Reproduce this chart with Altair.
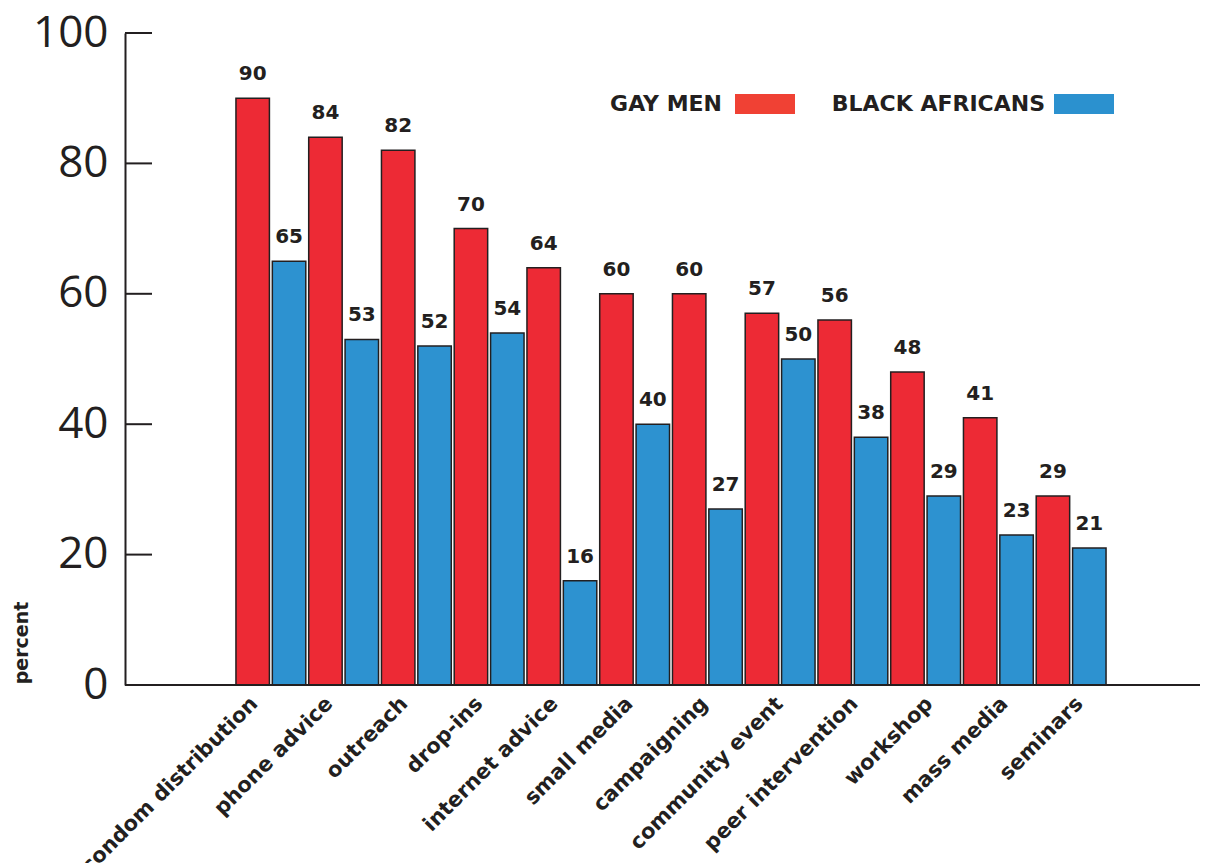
import altair as alt
import pandas as pd

categories = ["condom distribution", "phone advice", "outreach", "drop-ins",
              "internet advice", "small media", "campaigning", "community event",
              "peer intervention", "workshop", "mass media", "seminars"]
gay_men = [90, 84, 82, 70, 64, 60, 60, 57, 56, 48, 41, 29]
black_africans = [65, 53, 52, 54, 16, 40, 27, 50, 38, 29, 23, 21]
series = ["GAY MEN", "BLACK AFRICANS"]
bar_colors = ["#ed2a35", "#2d92d0"]
legend_colors = ["#f04134", "#2b91cf"]
y_ticks = [0, 20, 40, 60, 80, 100]

rows = []
for c, g, b in zip(categories, gay_men, black_africans):
    rows.append({"category": c, "series": series[0], "value": g})
    rows.append({"category": c, "series": series[1], "value": b})
df = pd.DataFrame(rows)
cat_df = pd.DataFrame({"category": categories})

INK = "#231f20"

x = alt.X("category:N", sort=categories, title=None,
          scale=alt.Scale(paddingInner=0, paddingOuter=0, range=[109.5, 982.5]),
          axis=None)
xo = alt.XOffset("series:N", sort=series, scale=alt.Scale(paddingInner=0.08, paddingOuter=0.04))
y = alt.Y("value:Q", scale=alt.Scale(domain=[0, 100], nice=False), title=None,
          axis=alt.Axis(values=y_ticks, ticks=False, grid=False, labelFont="Open Sans",
                        labelFontSize=44, labelColor=INK, labelPadding=17,
                        domainColor=INK, domainWidth=2))

bars = alt.Chart(df).mark_bar(stroke=INK, strokeWidth=1.5).encode(
    x=x, xOffset=xo, y=y,
    color=alt.Color("series:N", scale=alt.Scale(domain=series, range=bar_colors), legend=None))

labels = alt.Chart(df).mark_text(baseline="bottom", dy=-14, font="DejaVu Sans",
                                 fontWeight="bold", fontSize=20, color=INK).encode(
    x=x, xOffset=xo, y=y, text="value:Q")

ticks = alt.Chart(pd.DataFrame({"value": y_ticks})).mark_rule(color=INK, strokeWidth=2).encode(
    y=y, x=alt.value(0), x2=alt.value(27))

baseline = alt.Chart(pd.DataFrame({"value": [0]})).mark_rule(color=INK, strokeWidth=2).encode(
    y=y, x=alt.value(0), x2=alt.value(1075))

cat_labels = alt.Chart(cat_df).mark_text(angle=315, align="right", baseline="top",
                                         font="DejaVu Sans", fontWeight="bold",
                                         fontSize=21, color=INK).encode(
    x=alt.X("category:N", sort=categories, axis=None,
            scale=alt.Scale(paddingInner=0, paddingOuter=0, range=[84.4, 984.5])),
    y=alt.value(660),
    text="category:N")

one = pd.DataFrame({"k": [0]})
leg_font = dict(font="DejaVu Sans", fontWeight="bold", fontSize=22, color=INK,
                align="right", baseline="middle")
leg1_t = alt.Chart(one).mark_text(text=series[0], **leg_font).encode(
    x=alt.value(597), y=alt.value(71))
leg1_r = alt.Chart(one).mark_rect(color=legend_colors[0]).encode(
    x=alt.value(610), x2=alt.value(670), y=alt.value(61), y2=alt.value(81))
leg2_t = alt.Chart(one).mark_text(text=series[1], **leg_font).encode(
    x=alt.value(920), y=alt.value(71))
leg2_r = alt.Chart(one).mark_rect(color=legend_colors[1]).encode(
    x=alt.value(929), x2=alt.value(989), y=alt.value(61), y2=alt.value(81))

ytitle = alt.Chart(one).mark_text(text="percent", angle=270, font="DejaVu Sans",
                                  fontWeight="bold", fontSize=19, color=INK,
                                  align="center", baseline="middle").encode(
    x=alt.value(-103), y=alt.value(610))

chart = alt.layer(bars, labels, ticks, baseline, cat_labels,
                  leg1_t, leg1_r, leg2_t, leg2_r, ytitle).resolve_scale(
    x="independent"
).properties(
    width=1075, height=652,
    autosize=alt.AutoSizeParams(type="none"),
    padding={"left": 125, "top": 33, "right": 8, "bottom": 178},
    background="white",
).configure_view(stroke=None)

chart.save("out.html", embed_options={"renderer": "svg", "actions": False})
